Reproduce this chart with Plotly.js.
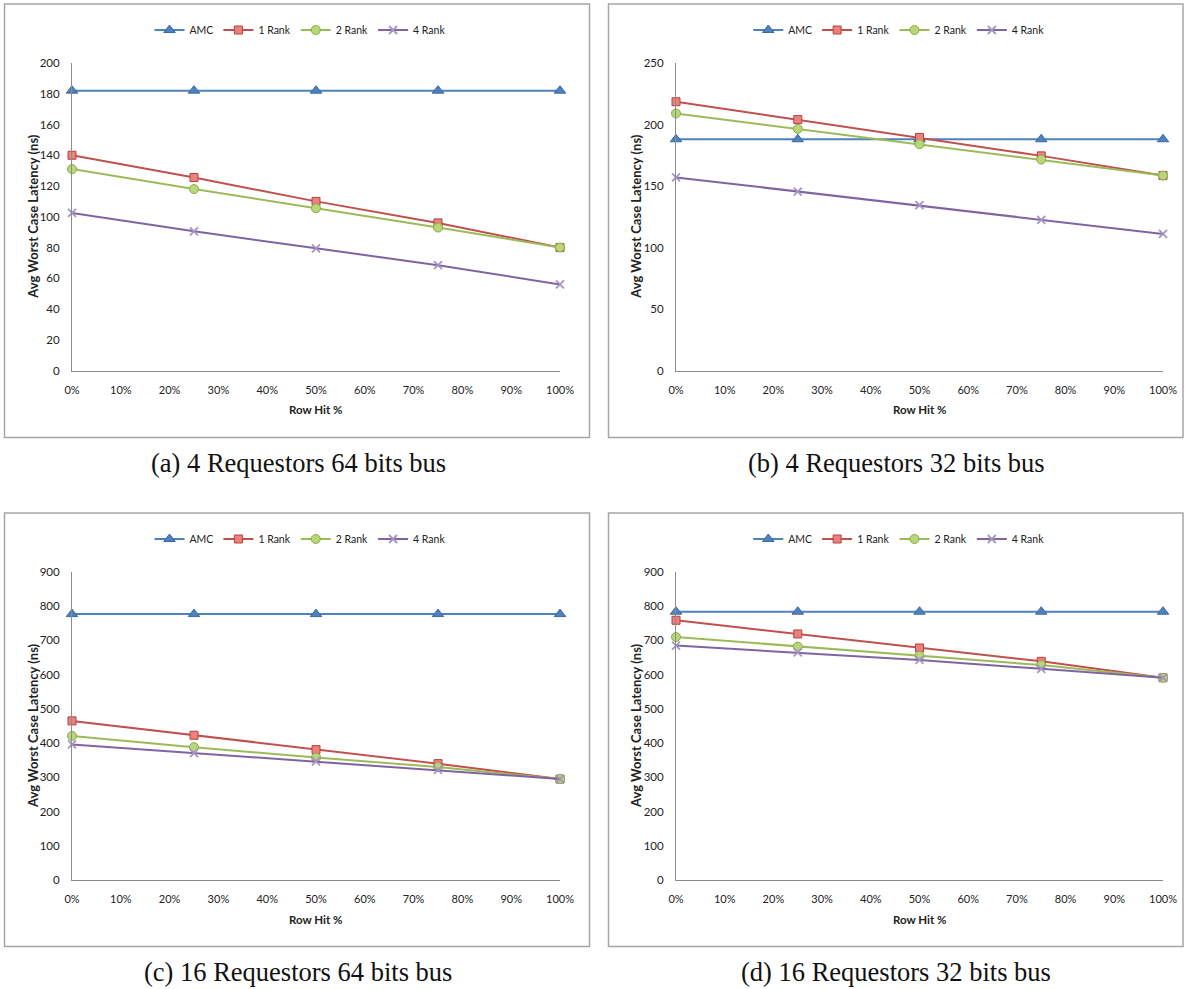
<!DOCTYPE html>
<html>
<head>
<meta charset="utf-8">
<script src="https://cdn.plot.ly/plotly-3.0.1.min.js"></script>
<style>html,body{margin:0;padding:0;background:#fff;}#chart{width:1186px;height:989px;}</style>
</head>
<body>
<div id="chart"></div>
<script>
// ---- data ----
const rowHit = [0, 0.25, 0.5, 0.75, 1];
const seriesNames = ["AMC", "1 Rank", "2 Rank", "4 Rank"];
const xTickVals = [0,0.1,0.2,0.3,0.4,0.5,0.6,0.7,0.8,0.9,1];
const xTickText = ["0%","10%","20%","30%","40%","50%","60%","70%","80%","90%","100%"];

const aAMC = [182, 182, 182, 182, 182];
const a1Rank = [140, 125.5, 110, 96, 80];
const a2Rank = [131, 118, 105.5, 93, 80];
const a4Rank = [102.5, 90.5, 79.5, 68.5, 56];

const bAMC = [188, 188, 188, 188, 188];
const b1Rank = [218.5, 204, 189.5, 174.5, 158.5];
const b2Rank = [209, 196.5, 184, 171.5, 158.5];
const b4Rank = [157, 145.5, 134.5, 122.5, 111];

const cAMC = [777, 777, 777, 777, 777];
const c1Rank = [465, 423, 381, 340, 295];
const c2Rank = [421, 388, 358, 330, 295];
const c4Rank = [396, 371, 347, 322, 295];

const dAMC = [784, 784, 784, 784, 784];
const d1Rank = [759, 719, 678, 639, 591];
const d2Rank = [710, 682, 655, 628, 591];
const d4Rank = [685, 665, 643, 617, 591];

const captions = ["(a) 4 Requestors 64 bits bus", "(b) 4 Requestors 32 bits bus",
                  "(c) 16 Requestors 64 bits bus", "(d) 16 Requestors 32 bits bus"];
const yMax = [200, 250, 900, 900];
const yStep = [20, 50, 100, 100];

// ---- styling ----
const W = 1186, H = 989;
const px = v => v / W;
const py = v => 1 - v / H;
const styles = [
  {color:"#4F81BD", symbol:"triangle-up", size:10, fill:"#4F81BD", lc:"#3A6AA3", lw:1},
  {color:"#C0504D", symbol:"square", size:8, fill:"#E8827F", lc:"#B8403D", lw:1},
  {color:"#9BBB59", symbol:"circle", size:9, fill:"#B9D67A", lc:"#8AAA48", lw:1},
  {color:"#8064A2", symbol:"x-thin-open", size:8, fill:"#A595C0", lc:"#A595C0", lw:1.8}
];
const panelData = [
  [aAMC, a1Rank, a2Rank, a4Rank],
  [bAMC, b1Rank, b2Rank, b4Rank],
  [cAMC, c1Rank, c2Rank, c4Rank],
  [dAMC, d1Rank, d2Rank, d4Rank]
];
// pixel geometry of each panel
const geo = [
  {x0:72, x1:560, yt:63, yb:370.5, box:[4.5,4,589.5,437.5], legY:30, cap:463, capX:298, ytX:33},
  {x0:676, x1:1163, yt:63, yb:370.5, box:[608.5,4,1183,437.5], legY:30, cap:463, capX:896, ytX:636},
  {x0:72, x1:560, yt:572, yb:880, box:[4.5,513,589.5,946.5], legY:539, cap:972, capX:298, ytX:33},
  {x0:676, x1:1163, yt:572, yb:880, box:[608.5,513,1183,946.5], legY:539, cap:972, capX:896, ytX:636}
];

const FONT = "Lato, 'Open Sans', sans-serif";
const traces = [];
const layout = {
  width: W, height: H,
  margin: {l:0, r:0, t:0, b:0},
  paper_bgcolor: "#fff", plot_bgcolor: "#fff",
  font: {family: FONT, size: 11, color: "#222"},
  shapes: [], annotations: [],
  showlegend: true
};

for (let p = 0; p < 4; p++) {
  const g = geo[p];
  const sfx = p === 0 ? "" : String(p + 1);
  const legName = "legend" + sfx;
  for (let s = 0; s < 4; s++) {
    const st = styles[s];
    traces.push({
      x: rowHit, y: panelData[p][s], name: seriesNames[s],
      type: "scatter", mode: "lines+markers",
      xaxis: "x" + sfx, yaxis: "y" + sfx, legend: legName,
      cliponaxis: false,
      line: {color: st.color, width: 2},
      marker: {symbol: st.symbol, size: st.size, color: st.fill,
               line: {color: st.lc, width: st.lw}}
    });
  }
  layout["xaxis" + sfx] = {
    domain: [px(g.x0), px(g.x1)], range: [0, 1], anchor: "y" + sfx,
    tickvals: xTickVals, ticktext: xTickText, ticks: "", ticklabelstandoff: 9,
    showgrid: false, zeroline: false, showline: true, linecolor: "#8c8c8c", linewidth: 1,
    tickfont: {family: FONT, size: 11, color: "#222"}, fixedrange: true
  };
  layout["yaxis" + sfx] = {
    domain: [py(g.yb), py(g.yt)], range: [0, yMax[p]], anchor: "x" + sfx,
    dtick: yStep[p], tick0: 0, ticks: "", ticklabelstandoff: 9,
    showgrid: false, zeroline: false, showline: true, linecolor: "#8c8c8c", linewidth: 1,
    tickfont: {family: FONT, size: 11.5, color: "#222"}, fixedrange: true
  };
  layout[legName] = {
    orientation: "h", x: px((g.box[0] + g.box[2]) / 2 + 3), y: py(g.legY),
    xanchor: "center", yanchor: "middle", bgcolor: "rgba(0,0,0,0)",
    font: {family: FONT, size: 10.5, color: "#222"}, itemwidth: 30, tracegroupgap: 0
  };
  layout.shapes.push({type: "rect", xref: "paper", yref: "paper",
    x0: px(g.box[0]), x1: px(g.box[2]), y0: py(g.box[3]), y1: py(g.box[1]),
    line: {color: "#a6a6a6", width: 1.5}, fillcolor: "rgba(0,0,0,0)", layer: "below"});
  // axis titles
  layout.annotations.push({xref: "paper", yref: "paper", x: px((g.x0 + g.x1) / 2), y: py(g.yb + 39),
    text: "Row Hit %", showarrow: false, xanchor: "center", yanchor: "middle",
    font: {family: FONT, size: 11.5, color: "#222", weight: "bold"}});
  layout.annotations.push({xref: "paper", yref: "paper", x: px(g.ytX), y: py((g.yt + g.yb) / 2),
    text: "Avg Worst Case Latency (ns)", showarrow: false, textangle: -90,
    xanchor: "center", yanchor: "middle",
    font: {family: FONT, size: 13, color: "#222", weight: "bold"}});
  // caption
  layout.annotations.push({xref: "paper", yref: "paper", x: px(g.capX), y: py(g.cap),
    text: captions[p], showarrow: false, xanchor: "center", yanchor: "middle",
    font: {family: "'Liberation Serif', 'DejaVu Serif', serif", size: 26.5, color: "#111"}});
}

Plotly.newPlot("chart", traces, layout, {displayModeBar: false, staticPlot: true});
</script>
</body>
</html>
